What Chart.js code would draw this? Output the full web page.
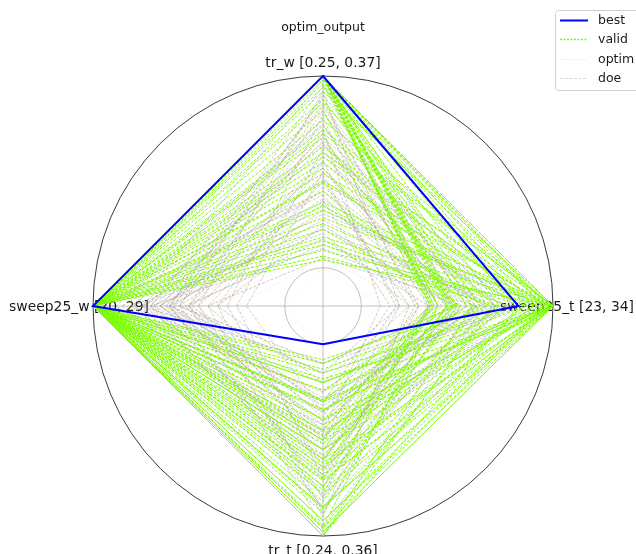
<!DOCTYPE html>
<html>
<head>
<meta charset="utf-8">
<script src="https://cdn.jsdelivr.net/npm/chart.js@4/dist/chart.umd.min.js"></script>
<style>
  html, body { margin: 0; padding: 0; background: #fff; }
  #wrap { width: 636px; height: 554px; }
</style>
</head>
<body>
<div id="wrap"><canvas id="c" width="636" height="554"></canvas></div>
<script>
// Axis labels (clockwise from the top) with the physical range of each variable
const categories = ['tr_w [0.25, 0.37]', 'sweep25_t [23, 34]', 'tr_t [0.24, 0.36]', 'sweep25_w [20, 29]'];
const chartTitle = 'optim_output';
const legendNames = ['best', 'valid', 'optim', 'doe'];

// Normalised values (0 = lower bound, 1 = upper bound): [tr_w, sweep25_t, tr_t, sweep25_w]
const best = [1.0, 0.82, 0.0, 1.0];

const valid = [
  [1.00, 1.00, 0.98, 1], [1.00, 1.00, 0.85, 1], [1.00, 0.97, 0.71, 1], [1.00, 0.36, 0.55, 1],
  [1.00, 0.38, 0.50, 1], [1.00, 0.48, 0.64, 1], [1.00, 0.49, 0.39, 1], [1.00, 0.72, 0.20, 1],
  [1.00, 0.62, 0.08, 1], [1.00, 0.55, 0.29, 1], [1.00, 0.90, 0.34, 1], [1.00, 0.80, 0.15, 1],
  [1.00, 1.00, 0.45, 1], [1.00, 0.36, 0.78, 1], [1.00, 0.47, 0.24, 1], [1.00, 0.95, 0.92, 1],
  [0.98, 0.66, 0.13, 1], [0.96, 0.40, 0.60, 1], [0.77, 1.00, 0.98, 1], [0.72, 1.00, 0.71, 1],
  [0.63, 0.95, 0.50, 1], [0.60, 1.00, 0.29, 1], [0.49, 0.98, 0.85, 1], [0.44, 0.90, 0.64, 1],
  [0.34, 1.00, 0.39, 1], [0.32, 0.86, 0.20, 1], [0.26, 1.00, 0.78, 1], [0.23, 0.76, 0.55, 1],
  [0.16, 1.00, 0.92, 1], [0.09, 0.93, 0.34, 1], [0.04, 1.00, 0.60, 1], [0.86, 0.82, 1.00, 1],
  [0.55, 0.70, 0.96, 1], [0.40, 0.58, 1.00, 1], [0.92, 1.00, 0.24, 1], [0.68, 0.44, 0.88, 1],
  [0.20, 0.52, 0.74, 1], [0.12, 0.68, 1.00, 1], [0.82, 0.36, 0.30, 1], [0.52, 0.49, 0.10, 1],
  [1.00, 0.37, 0.66, 1], [1.00, 0.37, 0.45, 1], [1.00, 0.46, 0.52, 1], [1.00, 0.47, 0.70, 1],
  [1.00, 0.45, 0.35, 1], [1.00, 0.50, 0.82, 1], [1.00, 1.00, 0.62, 1], [1.00, 1.00, 0.30, 1],
  [1.00, 0.98, 0.76, 1], [0.94, 0.95, 0.55, 1], [1.00, 0.86, 0.48, 1], [0.70, 1.00, 0.42, 1],
  [0.58, 0.92, 0.68, 1], [0.30, 0.96, 0.96, 1], [0.45, 1.00, 0.18, 1], [0.88, 0.62, 0.74, 1],
  [0.14, 0.84, 0.86, 1], [0.06, 0.72, 0.47, 1], [1.00, 0.40, 0.95, 1], [1.00, 0.58, 0.58, 1]
];

const optim = [
  [0.60, 0.50, 0.40, 0.65], [0.30, 0.40, 0.20, 0.50], [0.80, 0.60, 0.55, 0.80], [0.10, 0.20, 0.30, 0.40],
  [0.50, 0.70, 0.60, 0.30], [0.00, 0.10, 0.05, 0.00], [0.70, 0.30, 0.70, 0.60], [0.40, 0.55, 0.45, 0.75],
  [0.20, 0.45, 0.10, 0.55], [0.90, 0.80, 0.35, 0.70], [0.45, 0.25, 0.65, 0.45], [0.65, 0.65, 0.25, 0.85],
  [0.25, 0.35, 0.50, 0.60], [0.55, 0.45, 0.80, 0.50], [0.35, 0.75, 0.35, 0.35], [0.75, 0.40, 0.15, 0.65],
  [0.15, 0.60, 0.70, 0.70], [0.85, 0.50, 0.60, 0.55], [0.05, 0.30, 0.40, 0.25], [0.50, 0.20, 0.30, 0.80]
];

const doe = [
  [0.85, 0.60, 0.40, 0.70], [0.70, 0.30, 0.75, 0.55], [0.55, 0.80, 0.20, 0.35], [0.40, 0.45, 0.60, 0.85],
  [0.92, 0.20, 0.50, 0.45], [0.25, 0.65, 0.85, 0.60], [0.65, 0.50, 0.10, 0.75], [0.15, 0.35, 0.45, 0.50],
  [0.80, 0.75, 0.65, 0.30], [0.35, 0.15, 0.30, 0.65], [0.60, 0.90, 0.55, 0.80], [0.45, 0.25, 0.90, 0.40],
  [0.75, 0.40, 0.25, 0.90], [0.20, 0.70, 0.70, 0.75], [0.50, 0.55, 0.35, 0.20], [0.88, 0.35, 0.80, 0.60],
  [0.30, 0.85, 0.15, 0.55], [0.10, 0.50, 0.60, 0.70], [0.72, 0.10, 0.45, 0.65], [0.58, 0.65, 0.95, 0.50],
  [0.95, 0.55, 0.30, 0.60], [0.38, 0.30, 0.50, 0.95], [0.05, 0.60, 0.35, 0.40], [0.68, 0.80, 0.85, 0.70],
  [0.48, 0.20, 0.15, 0.60], [0.82, 0.45, 0.55, 0.50], [0.28, 0.95, 0.40, 0.65], [0.62, 0.35, 0.70, 0.25],
  [0.18, 0.25, 0.20, 0.80], [0.90, 0.70, 0.10, 0.55], [0.42, 0.60, 0.80, 0.45], [0.78, 0.28, 0.62, 0.72],
  [0.52, 0.42, 0.42, 0.62], [0.33, 0.52, 0.58, 0.58], [0.66, 0.62, 0.32, 0.68], [0.12, 0.78, 0.52, 0.52],
  [0.98, 0.38, 0.68, 0.78], [0.22, 0.48, 0.88, 0.35], [0.56, 0.18, 0.38, 0.48], [0.74, 0.58, 0.48, 0.88],
  [0.64, 0.70, 0.28, 0.62], [0.36, 0.64, 0.66, 0.68], [0.84, 0.52, 0.36, 0.58], [0.46, 0.74, 0.46, 0.74]
];

// Line styles for each group
const styles = {
  best:  { color: '#0000ff', width: 2, dash: [] },
  valid: { color: '#7cfc00', width: 1, dash: [3, 1.6] },
  optim: { color: 'rgba(255,140,0,0.13)', width: 1, dash: [3, 1.6] },
  doe:   { color: 'rgba(128,128,128,0.4)', width: 1, dash: [3, 1.6] }
};

function lineSet(name, values, st) {
  return {
    label: name,
    data: values,
    borderColor: st.color,
    borderWidth: st.width,
    borderDash: st.dash,
    backgroundColor: 'transparent',
    fill: false,
    pointRadius: 0,
    pointHoverRadius: 0,
    tension: 0
  };
}

// Index 0 is painted last, so the best design sits on top, then valid, optim, doe.
const datasets = [lineSet('best', best, styles.best)];
valid.forEach(v => datasets.push(lineSet('valid', v, styles.valid)));
optim.forEach(v => datasets.push(lineSet('optim', v, styles.optim)));
doe.forEach(v => datasets.push(lineSet('doe', v, styles.doe)));

const FONT = "'DejaVu Sans', 'Liberation Sans', sans-serif";

// Axis labels sit under the data lines, centred just outside the outer circle
const axisLabels = {
  id: 'axisLabels',
  beforeDatasetsDraw(chart) {
    const scale = chart.scales.r;
    const ctx = chart.ctx;
    ctx.save();
    ctx.font = '13.9px ' + FONT;
    ctx.fillStyle = '#1a1a1a';
    ctx.textAlign = 'center';
    ctx.textBaseline = 'middle';
    categories.forEach((txt, i) => {
      const p = scale.getPointPosition(i, scale.drawingArea + 14);
      ctx.fillText(txt, p.x, p.y + 1);
    });
    ctx.restore();
  }
};

// Title and the boxed legend in the upper right corner
const decorations = {
  id: 'decorations',
  afterDraw(chart) {
    const ctx = chart.ctx;
    ctx.save();
    ctx.font = '12.5px ' + FONT;
    ctx.fillStyle = '#1a1a1a';
    ctx.textAlign = 'center';
    ctx.textBaseline = 'middle';
    ctx.fillText(chartTitle, 323, 28);

    // legend frame
    const bx = 555.5, by = 10.5, bw = 100, bh = 80, rad = 3;
    ctx.beginPath();
    ctx.moveTo(bx + rad, by);
    ctx.lineTo(bx + bw, by);
    ctx.lineTo(bx + bw, by + bh);
    ctx.lineTo(bx + rad, by + bh);
    ctx.arcTo(bx, by + bh, bx, by + bh - rad, rad);
    ctx.lineTo(bx, by + rad);
    ctx.arcTo(bx, by, bx + rad, by, rad);
    ctx.closePath();
    ctx.fillStyle = 'rgba(255,255,255,0.8)';
    ctx.fill();
    ctx.strokeStyle = '#d0d0d0';
    ctx.lineWidth = 1;
    ctx.stroke();

    // sample strokes: legend colours follow the line styles
    const samples = [
      { color: '#0000ff', width: 2, dash: [] },
      { color: '#7cfc00', width: 1.5, dash: [2, 1.5] },
      { color: 'rgba(255,140,0,0.15)', width: 1, dash: [3, 1.6] },
      { color: 'rgba(128,128,128,0.3)', width: 1, dash: [3, 1.6] }
    ];
    const ys = [20.5, 39.5, 59.5, 78.5];
    samples.forEach((st, i) => {
      ctx.beginPath();
      ctx.setLineDash(st.dash);
      ctx.strokeStyle = st.color;
      ctx.lineWidth = st.width;
      ctx.moveTo(560, ys[i]);
      ctx.lineTo(588, ys[i]);
      ctx.stroke();
      ctx.setLineDash([]);
      ctx.fillStyle = '#1a1a1a';
      ctx.textAlign = 'left';
      ctx.font = '12.5px ' + FONT;
      ctx.fillText(legendNames[i], 598, ys[i]);
    });
    ctx.restore();
  }
};

new Chart(document.getElementById('c'), {
  type: 'radar',
  data: { labels: categories, datasets: datasets },
  options: {
    responsive: false,
    animation: false,
    events: [],
    layout: { padding: { left: 93, right: 83, top: 76, bottom: 18 } },
    plugins: {
      legend: { display: false },
      title: { display: false },
      tooltip: { enabled: false }
    },
    elements: { line: { tension: 0 } },
    scales: {
      r: {
        min: -0.2,
        max: 1,
        afterBuildTicks(scale) {
          scale.ticks = [{ value: -0.2 }, { value: 0 }, { value: 1 }];
        },
        ticks: { display: false },
        pointLabels: { display: false },
        angleLines: { display: true, color: '#b0b0b0', lineWidth: 0.8 },
        grid: {
          circular: true,
          color: ctx => ctx.tick && ctx.tick.value === 1 ? '#222' : (ctx.tick && ctx.tick.value === 0 ? '#b0b0b0' : 'rgba(0,0,0,0)'),
          lineWidth: ctx => ctx.tick && ctx.tick.value === 1 ? 0.9 : 0.8
        }
      }
    }
  },
  plugins: [axisLabels, decorations]
});
</script>
</body>
</html>
